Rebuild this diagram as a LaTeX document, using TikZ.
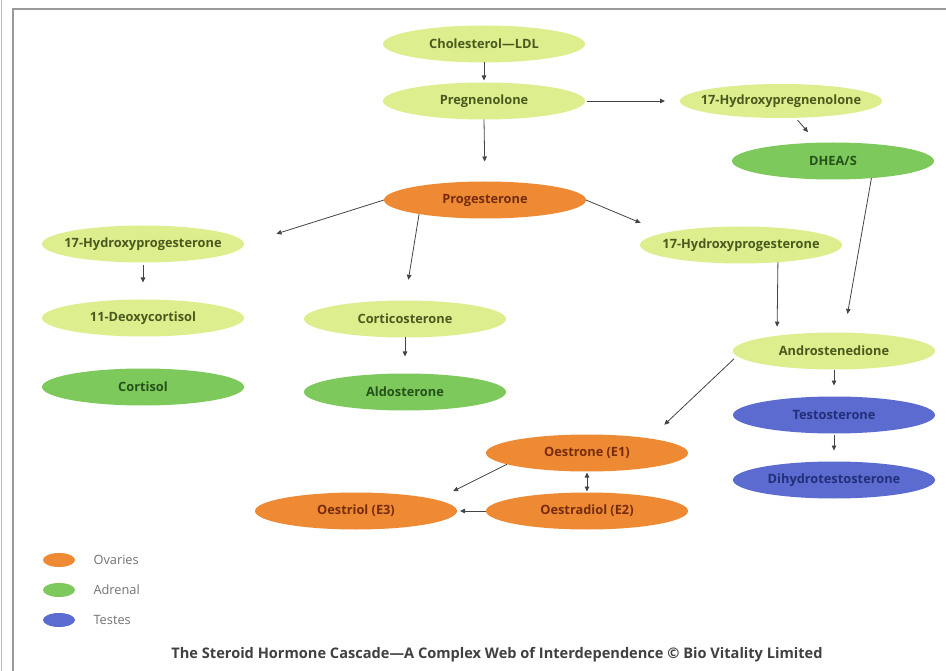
\documentclass[tikz,border=0pt]{standalone}
\usepackage{fontspec}
\setmainfont{Open Sans}
\usetikzlibrary{arrows.meta, shapes.geometric, positioning}
\definecolor{hcLime}{HTML}{DDEE8E}
\definecolor{hcGreen}{HTML}{7DC95B}
\definecolor{hcOrange}{HTML}{EE8A34}
\definecolor{hcBlue}{HTML}{5B6BCF}
\definecolor{hcLimeText}{HTML}{4A5A1E}
\definecolor{hcGreenText}{HTML}{24521A}
\definecolor{hcOrangeText}{HTML}{762C0C}
\definecolor{hcBlueText}{HTML}{22307A}
\definecolor{hcLine}{HTML}{444444}
\definecolor{hcFrame}{HTML}{9A9A9A}
\tikzset{
  % one ellipse per hormone, coloured by the gland that makes it
  hormone/.style   = {ellipse, minimum width=202pt, minimum height=37pt,
                      inner xsep=-30pt, inner ysep=0pt, outer sep=0pt,
                      font=\bfseries\fontsize{12.8}{14}\selectfont},
  precursor/.style = {hormone, fill=hcLime,   text=hcLimeText},
  adrenal/.style   = {hormone, fill=hcGreen,  text=hcGreenText},
  ovaries/.style   = {hormone, fill=hcOrange, text=hcOrangeText},
  testes/.style    = {hormone, fill=hcBlue,   text=hcBlueText},
  conv/.style      = {-{Triangle[length=5pt, width=4.5pt]}, hcLine, line width=0.8pt},
  keydot/.style    = {ellipse, minimum width=32pt, minimum height=14pt, inner sep=0pt},
  keylbl/.style    = {anchor=west, font=\fontsize{12.8}{14}\selectfont, black!55},
}

\begin{document}
\begin{tikzpicture}[x=1pt, y=-1pt]
  \useasboundingbox (0,0) rectangle (946,671);
  \fill[white] (0,0) rectangle (946,671);
  % frame
  \draw[hcFrame, line width=2pt] (13,671) -- (13,9) -- (946,9);
  \draw[black!25, line width=1.2pt] (1.5,0) -- (1.5,671);

  % hormones
  \node[precursor] (chol)       at (484,44)  {Cholesterol—LDL};
  \node[precursor] (preg)       at (484,101) {Pregnenolone};
  \node[precursor, minimum height=34pt] (ohpreg) at (781,101) {17-Hydroxypregnenolone};
  \node[adrenal]   (dhea)       at (833,161) {DHEA/S};
  \node[ovaries]   (prog)       at (485,200) {Progesterone};
  \node[precursor] (ohprogL)    at (143,244) {17-Hydroxyprogesterone};
  \node[precursor] (deoxy)      at (143,318) {11-Deoxycortisol};
  \node[adrenal]   (cortisol)   at (143,387) {Cortisol};
  \node[precursor] (cortico)    at (405,319) {Corticosterone};
  \node[adrenal]   (aldo)       at (405,392) {Aldosterone};
  \node[precursor] (ohprogR)    at (741,245) {17-Hydroxyprogesterone};
  \node[precursor] (andro)      at (834,351) {Androstenedione};
  \node[testes]    (testo)      at (834,415) {Testosterone};
  \node[testes]    (dht)        at (834,480) {Dihydrotestosterone};
  \node[ovaries]   (oestrone)   at (587,453) {Oestrone (E1)};
  \node[ovaries]   (oestradiol) at (587,511) {Oestradiol (E2)};
  \node[ovaries]   (oestriol)   at (356,511) {Oestriol (E3)};

  % conversions
  \draw[conv, shorten >=2pt] (chol.south) -- (preg.north);
  \draw[conv, shorten <=2pt, shorten >=15pt] (preg.east) -- (ohpreg.west);
  \draw[conv, shorten <=3pt, shorten >=14pt] (ohpreg) -- (dhea);
  \draw[conv, shorten >=20pt] (preg.south) -- (prog.north);
  \draw[conv, shorten >=34pt] (prog.west) -- (ohprogL.east);
  \draw[conv, shorten >=21pt] (prog.192) -- (cortico.north);
  \draw[conv, shorten >=26pt] (prog.east) -- (ohprogR.171);
  \draw[conv, shorten <=3pt, shorten >=17pt] (ohprogL.south) -- (deoxy.north);
  \draw[conv, shorten >=17pt] (cortico.south) -- (aldo.north);
  \draw[conv, shorten >=19pt] (dhea.336) -- (andro.61);
  \draw[conv, shorten >=9pt] (ohprogR.335) -- (andro.165);
  \draw[conv, shorten <=4pt, shorten >=20pt] (andro.183) -- (oestrone.13);
  \draw[conv, shorten >=11pt] (andro.south) -- (testo.north);
  \draw[conv, shorten <=1pt, shorten >=11pt] (testo.south) -- (dht.north);
  \draw[conv, {Triangle[length=5pt, width=4.5pt]}-{Triangle[length=5pt, width=4.5pt]},
        shorten <=1pt, shorten >=1pt] (oestrone.south) -- (oestradiol.north);
  \draw[conv, shorten >=19pt] (oestrone.188) -- (oestriol.8);
  \draw[conv, shorten >=3pt] (oestradiol.west) -- (oestriol.east);

  % key
  \foreach \y/\col/\gland in {560/hcOrange/Ovaries, 590/hcGreen/Adrenal, 620/hcBlue/Testes} {
    \node[keydot, fill=\col] (key\gland) at (59,\y) {};
    \node[keylbl] (lbl\gland) at (90,\y) {\gland};
  }

  \node[font=\bfseries\fontsize{14.6}{16}\selectfont, black!75] (caption) at (497,655)
    {The Steroid Hormone Cascade—A Complex Web of Interdependence © Bio Vitality Limited};
\end{tikzpicture}
\end{document}
